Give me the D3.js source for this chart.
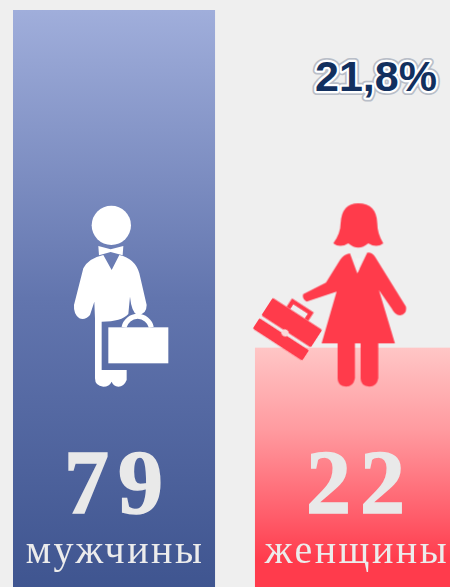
<!DOCTYPE html>
<html>

<head>
    <meta charset="utf-8">
    <script src="https://d3js.org/d3.v7.min.js"></script>
    <style>
        html, body { margin: 0; padding: 0; background: #efefef; overflow: hidden; }
    </style>
</head>

<body>
    <script>
        const categories = ["мужчины", "женщины"];
        const counts = [79, 22];
        const shareLabel = "21,8%";

        const width = 450;
        const height = 587;

        const svg = d3.select("body").append("svg")
            .attr("width", width)
            .attr("height", height)
            .style("display", "block");

        // bars are not zero based in the picture, the baseline sits below the frame
        const xScale = d3.scaleBand().domain(categories).range([13, 457]).paddingInner(0.165);
        const yScale = d3.scaleLinear().domain([-18.4, 79]).range([height, 10]);

        const defs = svg.append("defs");

        function addGradient(id, stops) {
            const grad = defs.append("linearGradient")
                .attr("id", id)
                .attr("x1", 0).attr("y1", 0).attr("x2", 0).attr("y2", 1);
            stops.forEach(s => grad.append("stop").attr("offset", s[0]).attr("stop-color", s[1]));
        }
        addGradient("grad0", [[0, "#a0aedb"], [0.5, "#6275ae"], [1, "#3f5590"]]);
        addGradient("grad1", [[0, "#ffc6c6"], [0.34, "#ff9ba0"], [0.72, "#ff5a68"], [0.89, "#ff3b4c"], [1, "#ff3b4c"]]);

        defs.append("filter").attr("id", "soft")
            .append("feGaussianBlur").attr("stdDeviation", 0.6);

        svg.selectAll("rect.bar").data(categories)
            .join("rect")
            .attr("class", "bar")
            .attr("x", d => xScale(d))
            .attr("y", (d, i) => yScale(counts[i]))
            .attr("width", xScale.bandwidth())
            .attr("height", (d, i) => height - yScale(counts[i]))
            .attr("fill", (d, i) => "url(#grad" + i + ")");

        // icons, drawn in units of 1/3 px
        const man = svg.append("g")
            .attr("transform", "translate(" + (xScale(categories[0]) + 37) + ",190) scale(0.3333)")
            .attr("fill", "#ffffff")
            .attr("filter", "url(#soft)");
        man.append("circle").attr("cx", 184).attr("cy", 106).attr("r", 59);
        man.append("path").attr("d", "M145,168 L182,178 L220,168 L218,196 L182,186 L147,196 Z");
        man.append("path").attr("d", "M160,195 L185,240 L208,195 Q255,205 268,250 L290,345 Q290,375 262,375 Q245,368 240,320 L235,372 Q215,395 155,395 L155,540 L230,540 L230,570 Q222,590 205,590 Q190,588 185,575 Q178,590 160,590 Q135,588 135,565 L135,385 L133,335 L120,375 Q105,392 88,385 Q70,372 72,345 L100,235 Q115,205 160,195 Z");
        man.append("path").attr("d", "M222,412 A42,42 0 0 1 304,412").attr("fill", "none").attr("stroke", "#ffffff").attr("stroke-width", 15);
        man.append("rect").attr("x", 175).attr("y", 412).attr("width", 180).attr("height", 108);

        const woman = svg.append("g")
            .attr("transform", "translate(" + (xScale(categories[1]) - 15) + ",190) scale(0.3333)")
            .attr("fill", "#ff3b4c")
            .attr("filter", "url(#soft)");
        woman.append("path").attr("d", "M355,40 Q410,40 412,100 Q412,130 430,160 Q410,175 385,160 Q355,185 325,160 Q300,175 280,160 Q302,130 302,100 Q305,40 355,40 Z");
        woman.append("path").attr("d", "M330,190 L352,250 L382,188 Q395,185 405,200 L498,350 Q502,372 480,376 Q465,375 455,355 L417,300 L465,460 L415,460 L415,565 Q410,590 388,590 Q362,588 362,565 L362,460 L345,460 L345,565 Q340,590 318,590 Q293,588 293,565 L293,460 L245,460 L290,305 L200,335 Q185,325 190,312 L258,278 L300,210 Q312,192 330,190 Z");
        woman.append("path").attr("d", "M345,205 L365,205 L355,248 Z").attr("fill", "#f2f2f2");
        woman.append("g").attr("transform", "translate(143,417) rotate(33) scale(1.08)").call(g => {
            g.append("rect").attr("x", -82).attr("y", -50).attr("width", 164).attr("height", 58).attr("rx", 4);
            g.append("rect").attr("x", -82).attr("y", 17).attr("width", 164).attr("height", 35).attr("rx", 4);
            g.append("path").attr("d", "M-30,-50 L-30,-72 L30,-72 L30,-50").attr("fill", "none").attr("stroke", "#ff3b4c").attr("stroke-width", 12);
            g.append("circle").attr("cx", 0).attr("cy", 13).attr("r", 10).attr("fill", "#f9d9d9");
        });

        svg.selectAll("text.count").data(counts)
            .join("text")
            .attr("class", "count")
            .attr("x", (d, i) => xScale(categories[i]) + xScale.bandwidth() / 2)
            .attr("y", 513)
            .attr("dx", 4)
            .attr("text-anchor", "middle")
            .attr("font-family", "'Liberation Serif'")
            .attr("font-weight", "bold")
            .attr("font-size", 90)
            .attr("letter-spacing", 9)
            .attr("fill", "#e9e9e9")
            .attr("stroke", "#e9e9e9")
            .attr("stroke-width", 1.5)
            .attr("filter", "url(#soft)")
            .text(d => d);

        svg.selectAll("text.cat").data(categories)
            .join("text")
            .attr("class", "cat")
            .attr("x", d => xScale(d) + xScale.bandwidth() / 2)
            .attr("y", 563)
            .attr("dx", 1)
            .attr("text-anchor", "middle")
            .attr("font-family", "'Liberation Serif'")
            .attr("font-size", 40)
            .attr("letter-spacing", 2.5)
            .attr("fill", "#ececec")
            .attr("filter", "url(#soft)")
            .text(d => d);

        // outlined share label
        [["#b9bec8", 8], ["#ffffff", 4.5]].forEach(o => {
            svg.append("text")
                .attr("x", 376).attr("y", 91)
                .attr("text-anchor", "middle")
                .attr("font-family", "'Liberation Sans'")
                .attr("font-weight", "bold")
                .attr("font-size", 43)
                .attr("fill", "none")
                .attr("stroke", o[0])
                .attr("stroke-width", o[1])
                .attr("stroke-linejoin", "round")
                .text(shareLabel);
        });
        svg.append("text")
            .attr("x", 376).attr("y", 91)
            .attr("text-anchor", "middle")
            .attr("font-family", "'Liberation Sans'")
            .attr("font-weight", "bold")
            .attr("font-size", 43)
            .attr("fill", "#12305f")
            .text(shareLabel);
    </script>
</body>

</html>
